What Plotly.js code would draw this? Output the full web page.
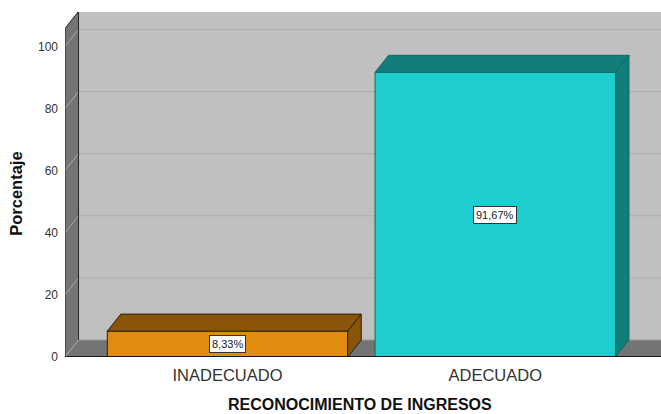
<!DOCTYPE html>
<html>
<head>
<meta charset="utf-8">
<script src="https://cdn.plot.ly/plotly-3.0.1.min.js"></script>
<style>html,body{margin:0;padding:0;background:#fff;}#chart{width:661px;height:414px;}</style>
</head>
<body>
<div id="chart"></div>
<script>
// ---- data ----
const categories = ['INADECUADO', 'ADECUADO'];
const percentages = [8.33, 91.67];
const yTickVals = [0, 20, 40, 60, 80, 100];

// ---- style constants ----
const frontColors = ['#E18B0F', '#1ECDCD'];
const darkColors = ['#8A5509', '#127E7A'];
const edgeColors = ['#2a2010', '#0f6a66'];
const barWidth = 0.898;
const dx = 0.0505;      // depth offset in x units
const dy = 5.48;        // depth offset in y units
const xMin = -0.607, xMax = 1.619;
const yMax = 111.1;
const wallTop = 105.8;
const FONT = 'Arial, "Liberation Sans", sans-serif';

const xs = categories.map((c, i) => i);
const fmt = v => v.toFixed(2).replace('.', ',') + '%';

const shapes = [];
// back wall
shapes.push({type: 'path', xref: 'x', yref: 'y', layer: 'below',
  path: `M${xMin + dx},${dy} L${xMax},${dy} L${xMax},${wallTop + dy} L${xMin + dx},${wallTop + dy} Z`,
  fillcolor: '#C0C0C0', line: {width: 0}});
// left wall
shapes.push({type: 'path', xref: 'x', yref: 'y', layer: 'below',
  path: `M${xMin},0 L${xMin},${wallTop} L${xMin + dx},${wallTop + dy} L${xMin + dx},${dy} Z`,
  fillcolor: '#747474', line: {width: 0}});
// floor
shapes.push({type: 'path', xref: 'x', yref: 'y', layer: 'below',
  path: `M${xMin},0 L${xMax},0 L${xMax},${dy} L${xMin + dx},${dy} Z`,
  fillcolor: '#747474', line: {width: 0}});
// gridlines
yTickVals.forEach(v => {
  shapes.push({type: 'line', xref: 'x', yref: 'y', layer: 'below',
    x0: xMin + dx, x1: xMax, y0: v + dy, y1: v + dy,
    line: {color: v === 0 ? '#9a9a9a' : '#acacac', width: 1}});
  shapes.push({type: 'line', xref: 'x', yref: 'y', layer: 'below',
    x0: xMin, x1: xMin + dx, y0: v, y1: v + dy,
    line: {color: '#a8a8a8', width: 1}});
});
// wall edges
shapes.push({type: 'path', xref: 'x', yref: 'y', layer: 'below',
  path: `M${xMin + dx},${dy} L${xMin + dx},${wallTop + dy} L${xMax},${wallTop + dy}`,
  line: {color: '#222', width: 1}});
shapes.push({type: 'path', xref: 'x', yref: 'y', layer: 'below',
  path: `M${xMin},0 L${xMin},${wallTop} L${xMin + dx},${wallTop + dy}`,
  line: {color: '#222', width: 1}});
shapes.push({type: 'line', xref: 'x', yref: 'y', layer: 'above',
  x0: xMin, x1: xMax, y0: 0, y1: 0, line: {color: '#1a1a1a', width: 2}});

const traces = [];
// front faces
traces.push({type: 'bar', x: xs, y: percentages, width: barWidth,
  marker: {color: frontColors, line: {color: edgeColors, width: 1}},
  hoverinfo: 'skip', showlegend: false});
// top and side faces
xs.forEach((x, i) => {
  const v = percentages[i];
  const l = x - barWidth / 2, r = x + barWidth / 2;
  traces.push({type: 'scatter', mode: 'lines', fill: 'toself',
    x: [l, l + dx, r + dx, r, l], y: [v, v + dy, v + dy, v, v],
    fillcolor: darkColors[i], line: {color: edgeColors[i], width: 1},
    hoverinfo: 'skip', showlegend: false});
  traces.push({type: 'scatter', mode: 'lines', fill: 'toself',
    x: [r, r, r + dx, r + dx, r], y: [0, v, v + dy, dy, 0],
    fillcolor: darkColors[i], line: {color: edgeColors[i], width: 1},
    hoverinfo: 'skip', showlegend: false});
});

const annotations = xs.map((x, i) => ({
  x: x, y: percentages[i] / 2, xref: 'x', yref: 'y', text: fmt(percentages[i]),
  showarrow: false, bgcolor: '#fff', bordercolor: '#333', borderwidth: 1, borderpad: 2,
  font: {family: FONT, size: 11, color: '#222'}
}));
annotations.push({x: 0.495, y: -0.137, xref: 'paper', yref: 'paper', xanchor: 'center', yanchor: 'middle',
  text: '<b>RECONOCIMIENTO DE INGRESOS</b>', showarrow: false,
  font: {family: FONT, size: 16, color: '#111'}});
annotations.push({x: -0.0817, y: 0.474, xref: 'paper', yref: 'paper', xanchor: 'center', yanchor: 'middle',
  text: '<b>Porcentaje</b>', textangle: -90, showarrow: false,
  font: {family: FONT, size: 16.5, color: '#111'}});

const layout = {
  width: 661, height: 414,
  margin: {l: 65, r: 0, t: 12, b: 57},
  paper_bgcolor: '#fff', plot_bgcolor: '#fff',
  showlegend: false,
  xaxis: {range: [xMin, xMax], tickvals: xs, ticktext: categories, showgrid: false, zeroline: false,
    showline: false, ticks: '', ticklabelstandoff: 6, tickfont: {family: FONT, size: 16.5, color: '#333'}, fixedrange: true},
  yaxis: {range: [0, yMax], tickvals: yTickVals, showgrid: false, zeroline: false, showline: false,
    ticks: '', ticklabelstandoff: 6, tickfont: {family: FONT, size: 12, color: '#333'}, fixedrange: true},
  shapes: shapes,
  annotations: annotations
};

Plotly.newPlot('chart', traces, layout, {displayModeBar: false, staticPlot: true});
</script>
</body>
</html>
